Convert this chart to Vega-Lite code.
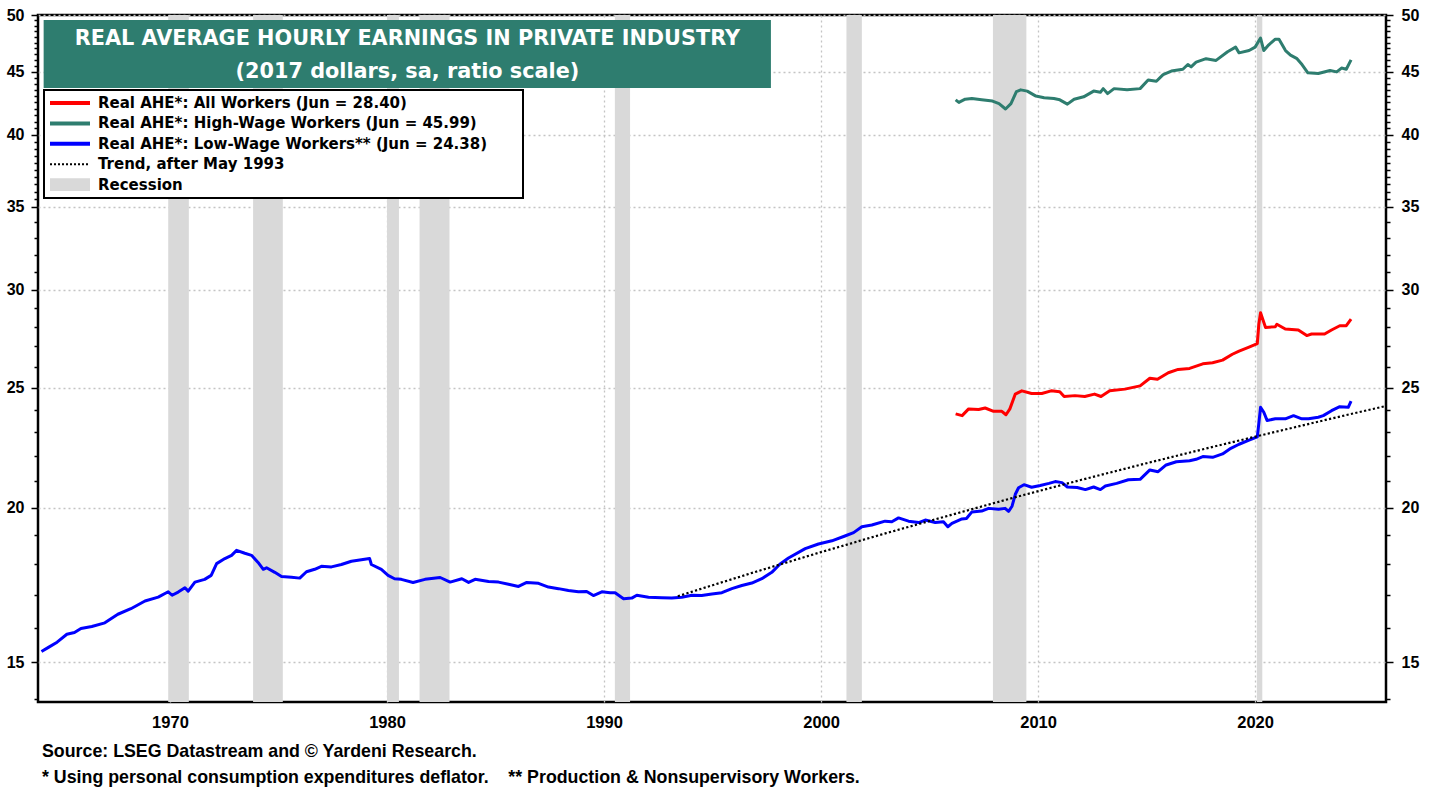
{
 "$schema": "https://vega.github.io/schema/vega-lite/v6.json",
 "width": 1348, "height": 687,
 "autosize": {"type": "none"},
 "padding": {"left": 38, "top": 15, "right": 52, "bottom": 85},
 "background": "white",
 "config": {
  "font": "Liberation Sans",
  "view": {"stroke": "black", "strokeWidth": 2.5},
  "axisY": {"domain": false, "tickColor": "black", "tickWidth": 1.5, "labelFont": "Liberation Sans", "labelFontSize": 16, "labelFontWeight": "bold", "labelColor": "black", "labelPadding": 7, "labelOverlap": false, "labelFlush": false, "gridColor": "#c4c4c4", "gridDash": [2, 3], "gridWidth": 1.3}
 },
 "title": {
  "text": ["Source: LSEG Datastream and © Yardeni Research.", "* Using personal consumption expenditures deflator.\u00a0\u00a0\u00a0 ** Production & Nonsupervisory Workers."],
  "orient": "bottom", "anchor": "start", "frame": "group", "offset": 12, "dx": 4,
  "font": "Liberation Sans", "fontSize": 17.8, "fontWeight": "bold", "color": "black", "lineHeight": 26
 },
 "datasets": {
  "recessions": [
   {"year": 1969.92, "end": 1970.87}, {"year": 1973.83, "end": 1975.2}, {"year": 1980.0, "end": 1980.55},
   {"year": 1981.5, "end": 1982.88}, {"year": 1990.5, "end": 1991.2}, {"year": 2001.17, "end": 2001.88},
   {"year": 2007.92, "end": 2009.46}, {"year": 2020.08, "end": 2020.33}
  ],
  "trend": [
   {"series": "Trend", "year": 1993.4, "value": 16.96}, {"series": "Trend", "year": 1995, "value": 17.31},
   {"series": "Trend", "year": 1997, "value": 17.75}, {"series": "Trend", "year": 2000, "value": 18.41},
   {"series": "Trend", "year": 2003, "value": 19.07}, {"series": "Trend", "year": 2006, "value": 19.73},
   {"series": "Trend", "year": 2009, "value": 20.40}, {"series": "Trend", "year": 2012, "value": 21.06},
   {"series": "Trend", "year": 2015, "value": 21.72}, {"series": "Trend", "year": 2018, "value": 22.38},
   {"series": "Trend", "year": 2021, "value": 23.04}, {"series": "Trend", "year": 2024, "value": 23.71},
   {"series": "Trend", "year": 2026.03, "value": 24.16}
  ],
  "series": [
   {"series":"Low","year":1964.08,"value":15.30},{"series":"Low","year":1964.4,"value":15.42},{"series":"Low","year":1964.8,"value":15.57},{"series":"Low","year":1965.25,"value":15.80},{"series":"Low","year":1965.6,"value":15.85},{"series":"Low","year":1965.9,"value":15.97},{"series":"Low","year":1966.4,"value":16.03},{"series":"Low","year":1967.0,"value":16.14},{"series":"Low","year":1967.6,"value":16.40},{"series":"Low","year":1968.2,"value":16.57},{"series":"Low","year":1968.85,"value":16.81},{"series":"Low","year":1969.46,"value":16.93},{"series":"Low","year":1969.92,"value":17.10},{"series":"Low","year":1970.1,"value":16.99},{"series":"Low","year":1970.38,"value":17.09},{"series":"Low","year":1970.69,"value":17.23},{"series":"Low","year":1970.84,"value":17.12},{"series":"Low","year":1971.15,"value":17.41},{"series":"Low","year":1971.6,"value":17.50},{"series":"Low","year":1971.9,"value":17.63},{"series":"Low","year":1972.15,"value":18.02},{"series":"Low","year":1972.53,"value":18.19},{"series":"Low","year":1972.84,"value":18.30},{"series":"Low","year":1973.07,"value":18.47},{"series":"Low","year":1973.45,"value":18.37},{"series":"Low","year":1973.76,"value":18.30},{"series":"Low","year":1974.06,"value":18.06},{"series":"Low","year":1974.3,"value":17.83},{"series":"Low","year":1974.45,"value":17.88},{"series":"Low","year":1974.83,"value":17.73},{"series":"Low","year":1975.14,"value":17.59},{"series":"Low","year":1975.6,"value":17.57},{"series":"Low","year":1975.98,"value":17.54},{"series":"Low","year":1976.29,"value":17.75},{"series":"Low","year":1976.67,"value":17.83},{"series":"Low","year":1976.98,"value":17.93},{"series":"Low","year":1977.44,"value":17.91},{"series":"Low","year":1977.9,"value":17.99},{"series":"Low","year":1978.36,"value":18.10},{"series":"Low","year":1978.82,"value":18.15},{"series":"Low","year":1979.2,"value":18.19},{"series":"Low","year":1979.28,"value":17.99},{"series":"Low","year":1979.74,"value":17.83},{"series":"Low","year":1980.05,"value":17.63},{"series":"Low","year":1980.35,"value":17.52},{"series":"Low","year":1980.66,"value":17.50},{"series":"Low","year":1981.2,"value":17.40},{"series":"Low","year":1981.75,"value":17.50},{"series":"Low","year":1982.45,"value":17.56},{"series":"Low","year":1982.91,"value":17.41},{"series":"Low","year":1983.45,"value":17.52},{"series":"Low","year":1983.76,"value":17.40},{"series":"Low","year":1984.06,"value":17.50},{"series":"Low","year":1984.68,"value":17.43},{"series":"Low","year":1985.14,"value":17.41},{"series":"Low","year":1985.6,"value":17.34},{"series":"Low","year":1986.06,"value":17.27},{"series":"Low","year":1986.44,"value":17.40},{"series":"Low","year":1986.98,"value":17.37},{"series":"Low","year":1987.44,"value":17.25},{"series":"Low","year":1987.9,"value":17.20},{"series":"Low","year":1988.36,"value":17.14},{"series":"Low","year":1988.82,"value":17.10},{"series":"Low","year":1989.2,"value":17.11},{"series":"Low","year":1989.51,"value":16.98},{"series":"Low","year":1989.9,"value":17.10},{"series":"Low","year":1990.28,"value":17.07},{"series":"Low","year":1990.51,"value":17.07},{"series":"Low","year":1990.9,"value":16.88},{"series":"Low","year":1991.28,"value":16.90},{"series":"Low","year":1991.51,"value":16.99},{"series":"Low","year":1992.05,"value":16.93},{"series":"Low","year":1992.66,"value":16.91},{"series":"Low","year":1993.12,"value":16.90},{"series":"Low","year":1993.58,"value":16.93},{"series":"Low","year":1994.05,"value":16.99},{"series":"Low","year":1994.5,"value":16.98},{"series":"Low","year":1994.97,"value":17.03},{"series":"Low","year":1995.43,"value":17.07},{"series":"Low","year":1995.89,"value":17.20},{"series":"Low","year":1996.35,"value":17.30},{"series":"Low","year":1996.81,"value":17.38},{"series":"Low","year":1997.27,"value":17.52},{"series":"Low","year":1997.73,"value":17.73},{"series":"Low","year":1998.1,"value":18.00},{"series":"Low","year":1998.5,"value":18.21},{"series":"Low","year":1999.27,"value":18.53},{"series":"Low","year":1999.88,"value":18.69},{"series":"Low","year":2000.5,"value":18.80},{"series":"Low","year":2001.1,"value":18.97},{"series":"Low","year":2001.5,"value":19.09},{"series":"Low","year":2001.88,"value":19.30},{"series":"Low","year":2002.34,"value":19.36},{"series":"Low","year":2002.95,"value":19.50},{"series":"Low","year":2003.26,"value":19.48},{"series":"Low","year":2003.57,"value":19.62},{"series":"Low","year":2004.03,"value":19.50},{"series":"Low","year":2004.5,"value":19.45},{"series":"Low","year":2004.8,"value":19.54},{"series":"Low","year":2005.26,"value":19.45},{"series":"Low","year":2005.64,"value":19.48},{"series":"Low","year":2005.84,"value":19.30},{"series":"Low","year":2006.03,"value":19.42},{"series":"Low","year":2006.49,"value":19.58},{"series":"Low","year":2006.7,"value":19.60},{"series":"Low","year":2006.95,"value":19.84},{"series":"Low","year":2007.4,"value":19.87},{"series":"Low","year":2007.72,"value":19.97},{"series":"Low","year":2008.18,"value":19.94},{"series":"Low","year":2008.48,"value":19.97},{"series":"Low","year":2008.64,"value":19.86},{"series":"Low","year":2008.8,"value":20.05},{"series":"Low","year":2008.95,"value":20.50},{"series":"Low","year":2009.1,"value":20.75},{"series":"Low","year":2009.35,"value":20.87},{"series":"Low","year":2009.7,"value":20.77},{"series":"Low","year":2010.1,"value":20.84},{"series":"Low","year":2010.5,"value":20.92},{"series":"Low","year":2010.79,"value":20.99},{"series":"Low","year":2011.1,"value":20.95},{"series":"Low","year":2011.35,"value":20.78},{"series":"Low","year":2011.8,"value":20.76},{"series":"Low","year":2012.18,"value":20.68},{"series":"Low","year":2012.56,"value":20.78},{"series":"Low","year":2012.87,"value":20.68},{"series":"Low","year":2013.1,"value":20.82},{"series":"Low","year":2013.62,"value":20.92},{"series":"Low","year":2014.16,"value":21.06},{"series":"Low","year":2014.7,"value":21.08},{"series":"Low","year":2015.15,"value":21.45},{"series":"Low","year":2015.53,"value":21.38},{"series":"Low","year":2015.9,"value":21.65},{"series":"Low","year":2016.37,"value":21.78},{"series":"Low","year":2016.98,"value":21.82},{"series":"Low","year":2017.28,"value":21.88},{"series":"Low","year":2017.59,"value":21.99},{"series":"Low","year":2018.04,"value":21.96},{"series":"Low","year":2018.5,"value":22.10},{"series":"Low","year":2018.88,"value":22.33},{"series":"Low","year":2019.26,"value":22.50},{"series":"Low","year":2019.72,"value":22.67},{"series":"Low","year":2020.1,"value":22.81},{"series":"Low","year":2020.17,"value":23.38},{"series":"Low","year":2020.25,"value":24.10},{"series":"Low","year":2020.4,"value":23.88},{"series":"Low","year":2020.55,"value":23.52},{"series":"Low","year":2020.93,"value":23.59},{"series":"Low","year":2021.39,"value":23.59},{"series":"Low","year":2021.77,"value":23.73},{"series":"Low","year":2022.15,"value":23.59},{"series":"Low","year":2022.46,"value":23.59},{"series":"Low","year":2022.91,"value":23.66},{"series":"Low","year":2023.14,"value":23.73},{"series":"Low","year":2023.52,"value":23.95},{"series":"Low","year":2023.9,"value":24.13},{"series":"Low","year":2024.29,"value":24.10},{"series":"Low","year":2024.42,"value":24.38},
   {"series":"All","year":2006.2,"value":23.81},{"series":"All","year":2006.5,"value":23.73},{"series":"All","year":2006.8,"value":24.03},{"series":"All","year":2007.26,"value":24.00},{"series":"All","year":2007.56,"value":24.07},{"series":"All","year":2007.95,"value":23.92},{"series":"All","year":2008.33,"value":23.92},{"series":"All","year":2008.52,"value":23.77},{"series":"All","year":2008.7,"value":24.03},{"series":"All","year":2008.95,"value":24.70},{"series":"All","year":2009.25,"value":24.85},{"series":"All","year":2009.7,"value":24.73},{"series":"All","year":2010.17,"value":24.73},{"series":"All","year":2010.6,"value":24.85},{"series":"All","year":2011.0,"value":24.81},{"series":"All","year":2011.2,"value":24.59},{"series":"All","year":2011.7,"value":24.63},{"series":"All","year":2012.15,"value":24.59},{"series":"All","year":2012.6,"value":24.70},{"series":"All","year":2012.9,"value":24.59},{"series":"All","year":2013.3,"value":24.85},{"series":"All","year":2014.0,"value":24.93},{"series":"All","year":2014.7,"value":25.08},{"series":"All","year":2015.15,"value":25.44},{"series":"All","year":2015.5,"value":25.39},{"series":"All","year":2016.0,"value":25.70},{"series":"All","year":2016.45,"value":25.86},{"series":"All","year":2016.98,"value":25.91},{"series":"All","year":2017.59,"value":26.13},{"series":"All","year":2018.04,"value":26.18},{"series":"All","year":2018.5,"value":26.31},{"series":"All","year":2018.95,"value":26.60},{"series":"All","year":2019.26,"value":26.76},{"series":"All","year":2019.72,"value":26.96},{"series":"All","year":2020.1,"value":27.13},{"series":"All","year":2020.17,"value":28.13},{"series":"All","year":2020.25,"value":28.74},{"series":"All","year":2020.48,"value":27.96},{"series":"All","year":2020.93,"value":28.00},{"series":"All","year":2021.0,"value":28.13},{"series":"All","year":2021.39,"value":27.88},{"series":"All","year":2021.99,"value":27.83},{"series":"All","year":2022.38,"value":27.54},{"series":"All","year":2022.6,"value":27.62},{"series":"All","year":2023.2,"value":27.62},{"series":"All","year":2023.52,"value":27.83},{"series":"All","year":2023.9,"value":28.05},{"series":"All","year":2024.2,"value":28.05},{"series":"All","year":2024.42,"value":28.40},
   {"series":"High","year":2006.2,"value":42.7},{"series":"High","year":2006.35,"value":42.5},{"series":"High","year":2006.64,"value":42.75},{"series":"High","year":2006.95,"value":42.8},{"series":"High","year":2007.4,"value":42.7},{"series":"High","year":2007.9,"value":42.6},{"series":"High","year":2008.2,"value":42.4},{"series":"High","year":2008.5,"value":41.98},{"series":"High","year":2008.75,"value":42.4},{"series":"High","year":2009.0,"value":43.35},{"series":"High","year":2009.2,"value":43.5},{"series":"High","year":2009.5,"value":43.4},{"series":"High","year":2009.9,"value":43.0},{"series":"High","year":2010.28,"value":42.87},{"series":"High","year":2010.73,"value":42.8},{"series":"High","year":2011.0,"value":42.7},{"series":"High","year":2011.35,"value":42.36},{"series":"High","year":2011.66,"value":42.75},{"series":"High","year":2012.1,"value":42.94},{"series":"High","year":2012.56,"value":43.4},{"series":"High","year":2012.87,"value":43.3},{"series":"High","year":2013.0,"value":43.6},{"series":"High","year":2013.2,"value":43.2},{"series":"High","year":2013.5,"value":43.6},{"series":"High","year":2014.1,"value":43.5},{"series":"High","year":2014.7,"value":43.6},{"series":"High","year":2015.07,"value":44.3},{"series":"High","year":2015.45,"value":44.2},{"series":"High","year":2015.76,"value":44.75},{"series":"High","year":2016.14,"value":45.05},{"series":"High","year":2016.67,"value":45.2},{"series":"High","year":2016.9,"value":45.6},{"series":"High","year":2017.05,"value":45.4},{"series":"High","year":2017.28,"value":45.8},{"series":"High","year":2017.74,"value":46.1},{"series":"High","year":2018.2,"value":45.95},{"series":"High","year":2018.73,"value":46.7},{"series":"High","year":2019.1,"value":47.1},{"series":"High","year":2019.26,"value":46.6},{"series":"High","year":2019.72,"value":46.8},{"series":"High","year":2020.0,"value":47.1},{"series":"High","year":2020.25,"value":47.9},{"series":"High","year":2020.4,"value":46.8},{"series":"High","year":2020.63,"value":47.3},{"series":"High","year":2020.93,"value":47.8},{"series":"High","year":2021.1,"value":47.8},{"series":"High","year":2021.4,"value":46.8},{"series":"High","year":2021.63,"value":46.4},{"series":"High","year":2021.93,"value":46.1},{"series":"High","year":2022.16,"value":45.6},{"series":"High","year":2022.43,"value":44.9},{"series":"High","year":2022.91,"value":44.85},{"series":"High","year":2023.45,"value":45.1},{"series":"High","year":2023.76,"value":44.98},{"series":"High","year":2023.98,"value":45.3},{"series":"High","year":2024.2,"value":45.2},{"series":"High","year":2024.42,"value":45.99}
  ]
 },
 "layer": [
  {
   "data": {"name": "recessions"},
   "mark": {"type": "rect", "color": "#d9d9d9"},
   "encoding": {
    "x": {"field": "year", "type": "quantitative", "scale": {"domain": [1963.92, 2026.03], "nice": false, "zero": false},
          "axis": {"orient": "bottom", "values": [1970, 1980, 1990, 2000, 2010, 2020], "tickCount": 20, "labelExpr": "format(datum.value, 'd')", "grid": true, "title": null, "domain": false, "ticks": false, "labelFont": "Liberation Sans", "labelFontSize": 16.5, "labelFontWeight": "bold", "labelColor": "black", "labelPadding": 12, "labelFlush": false, "gridColor": "#c4c4c4", "gridDash": [2, 3], "gridWidth": 1.3}},
    "x2": {"field": "end"}
   }
  },
  {
   "data": {"values": [{}]},
   "mark": {"type": "rect", "color": "#2e7d6f"},
   "encoding": {
    "x": {"datum": 1964.18, "type": "quantitative",
          "axis": {"orient": "bottom", "values": [1970, 1980, 1990, 2000, 2010, 2020], "tickCount": 20, "labelExpr": "format(datum.value, 'd')", "grid": true, "title": null, "domain": false, "ticks": false, "labelFont": "Liberation Sans", "labelFontSize": 16.5, "labelFontWeight": "bold", "labelColor": "black", "labelPadding": 12, "labelFlush": false, "gridColor": "#c4c4c4", "gridDash": [2, 3], "gridWidth": 1.3}},
    "x2": {"datum": 1997.69},
    "y": {"datum": 49.54, "type": "quantitative", "axis": null},
    "y2": {"datum": 43.66}
   }
  },
  {
   "data": {"values": [{}]},
   "mark": {"type": "text", "font": "DejaVu Sans", "fontSize": 20.8, "fontWeight": "bold", "color": "white", "align": "center", "baseline": "middle", "text": "REAL AVERAGE HOURLY EARNINGS IN PRIVATE INDUSTRY"},
   "encoding": {
    "x": {"datum": 1980.94, "type": "quantitative",
          "axis": {"orient": "bottom", "values": [1970, 1980, 1990, 2000, 2010, 2020], "tickCount": 20, "labelExpr": "format(datum.value, 'd')", "grid": true, "title": null, "domain": false, "ticks": false, "labelFont": "Liberation Sans", "labelFontSize": 16.5, "labelFontWeight": "bold", "labelColor": "black", "labelPadding": 12, "labelFlush": false, "gridColor": "#c4c4c4", "gridDash": [2, 3], "gridWidth": 1.3}},
    "y": {"datum": 47.82, "type": "quantitative", "axis": null}
   }
  },
  {
   "data": {"values": [{}]},
   "mark": {"type": "text", "font": "DejaVu Sans", "fontSize": 20.8, "fontWeight": "bold", "color": "white", "align": "center", "baseline": "middle", "text": "(2017 dollars, sa, ratio scale)"},
   "encoding": {
    "x": {"datum": 1980.94, "type": "quantitative",
          "axis": {"orient": "bottom", "values": [1970, 1980, 1990, 2000, 2010, 2020], "tickCount": 20, "labelExpr": "format(datum.value, 'd')", "grid": true, "title": null, "domain": false, "ticks": false, "labelFont": "Liberation Sans", "labelFontSize": 16.5, "labelFontWeight": "bold", "labelColor": "black", "labelPadding": 12, "labelFlush": false, "gridColor": "#c4c4c4", "gridDash": [2, 3], "gridWidth": 1.3}},
    "y": {"datum": 44.97, "type": "quantitative", "axis": null}
   }
  },
  {
   "data": {"name": "series"},
   "mark": {"type": "line", "strokeWidth": 3, "strokeJoin": "round"},
   "encoding": {
    "x": {"field": "year", "type": "quantitative", "scale": {"domain": [1963.92, 2026.03], "nice": false, "zero": false},
          "axis": {"orient": "bottom", "values": [1970, 1980, 1990, 2000, 2010, 2020], "tickCount": 20, "labelExpr": "format(datum.value, 'd')", "grid": true, "title": null, "domain": false, "ticks": false, "labelFont": "Liberation Sans", "labelFontSize": 16.5, "labelFontWeight": "bold", "labelColor": "black", "labelPadding": 12, "labelFlush": false, "gridColor": "#c4c4c4", "gridDash": [2, 3], "gridWidth": 1.3}},
    "y": {"field": "value", "type": "quantitative", "scale": {"type": "log", "domain": [13.93, 50], "nice": false, "zero": false},
          "axis": {"orient": "left", "title": null, "tickCount": 200,
                   "values": [14,15,16,17,18,19,20,21,22,23,24,25,26,27,28,29,30,31,32,33,34,35,35.5,36,36.5,37,37.5,38,38.5,39,39.5,40,40.5,41,41.5,42,42.5,43,43.5,44,44.5,45,45.5,46,46.5,47,47.5,48,48.5,49,49.5,50],
                   "labelExpr": "datum.value % 5 === 0 ? format(datum.value, 'd') : ''", "grid": true,
                   "tickSize": {"condition": {"test": "datum.value % 5 === 0", "value": 7}, "value": 4},
                   "gridOpacity": {"condition": {"test": "datum.value % 5 === 0", "value": 1}, "value": 0}}},
    "color": {"field": "series", "type": "nominal",
     "scale": {"domain": ["All", "High", "Low", "Trend", "Recession"], "range": ["#ff0000", "#2e7d6f", "#0000ff", "#000000", "#d9d9d9"]},
     "legend": {
      "orient": "none", "legendX": 6, "legendY": 75, "title": "\u00a0", "titleOrient": "right", "titlePadding": 31, "titleFontSize": 2,
      "symbolSize": 1600, "symbolStrokeWidth": 0, "symbolOffset": 1,
      "labelFont": "DejaVu Sans", "labelFontSize": 15, "labelFontWeight": "bold", "labelColor": "black",
      "labelOffset": 8, "clipHeight": 16, "rowPadding": 4.4, "padding": 5, "labelLimit": 0,
      "fillColor": "white", "strokeColor": "black",
      "labelExpr": "datum.label === 'All' ? 'Real AHE*: All Workers (Jun = 28.40)' : datum.label === 'High' ? 'Real AHE*: High-Wage Workers (Jun = 45.99)' : datum.label === 'Low' ? 'Real AHE*: Low-Wage Workers** (Jun = 24.38)' : datum.label === 'Trend' ? 'Trend, after May 1993' : 'Recession'",
      "encode": {
       "symbols": {"update": {
        "shape": {"signal": "datum.value === 'Recession' ? 'M-1,-0.32H1V0.32H-1Z' : datum.value === 'Trend' ? 'M-1,-0.05h0.1v0.1h-0.1zM-0.8,-0.05h0.1v0.1h-0.1zM-0.6,-0.05h0.1v0.1h-0.1zM-0.4,-0.05h0.1v0.1h-0.1zM-0.2,-0.05h0.1v0.1h-0.1zM0,-0.05h0.1v0.1h-0.1zM0.2,-0.05h0.1v0.1h-0.1zM0.4,-0.05h0.1v0.1h-0.1zM0.6,-0.05h0.1v0.1h-0.1zM0.8,-0.05h0.1v0.1h-0.1z' : 'M-1,-0.1H1V0.1H-1Z'"},
        "fill": {"scale": "color", "field": "value"},
        "size": {"value": 1600},
        "strokeWidth": {"value": 0},
        "opacity": {"value": 1}
       }},
       "legend": {"update": {"strokeWidth": {"value": 2}}}
      }
     }
    }
   }
  },
  {
   "data": {"name": "trend"},
   "mark": {"type": "line", "strokeWidth": 2.2, "strokeDash": [2.2, 2.3]},
   "encoding": {
    "x": {"field": "year", "type": "quantitative", "scale": {"domain": [1963.92, 2026.03], "nice": false, "zero": false},
          "axis": {"orient": "bottom", "values": [1970, 1980, 1990, 2000, 2010, 2020], "tickCount": 20, "labelExpr": "format(datum.value, 'd')", "grid": true, "title": null, "domain": false, "ticks": false, "labelFont": "Liberation Sans", "labelFontSize": 16.5, "labelFontWeight": "bold", "labelColor": "black", "labelPadding": 12, "labelFlush": false, "gridColor": "#c4c4c4", "gridDash": [2, 3], "gridWidth": 1.3}},
    "y": {"field": "value", "type": "quantitative", "scale": {"type": "log", "domain": [13.93, 50], "nice": false, "zero": false},
          "axis": {"orient": "right", "title": null, "labelPadding": 8, "tickCount": 200,
                   "values": [14,15,16,17,18,19,20,21,22,23,24,25,26,27,28,29,30,31,32,33,34,35,35.5,36,36.5,37,37.5,38,38.5,39,39.5,40,40.5,41,41.5,42,42.5,43,43.5,44,44.5,45,45.5,46,46.5,47,47.5,48,48.5,49,49.5,50],
                   "labelExpr": "datum.value % 5 === 0 ? format(datum.value, 'd') : ''", "grid": false,
                   "tickSize": {"condition": {"test": "datum.value % 5 === 0", "value": 7}, "value": 4}}},
    "color": {"field": "series", "type": "nominal",
     "scale": {"domain": ["All", "High", "Low", "Trend", "Recession"], "range": ["#ff0000", "#2e7d6f", "#0000ff", "#000000", "#d9d9d9"]}}
   }
  }
 ],
 "resolve": {"axis": {"y": "independent"}}
}
